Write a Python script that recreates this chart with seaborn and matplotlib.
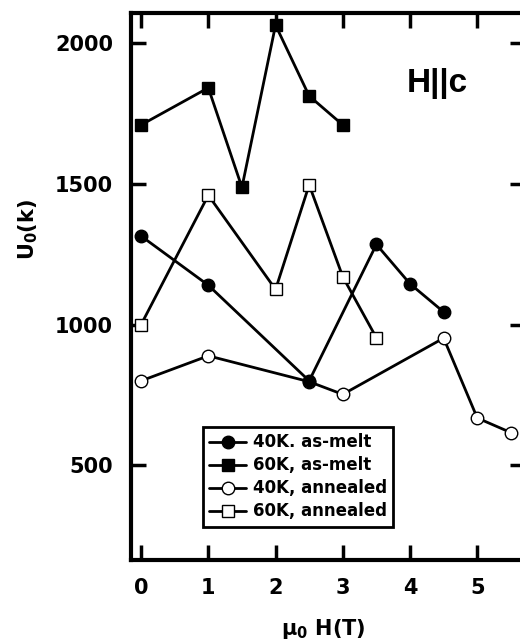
import matplotlib
matplotlib.use("Agg")
import matplotlib.pyplot as plt
import seaborn as sns
import numpy as np

# Data
x_40k_melt = [0, 1, 2.5, 3.5, 4, 4.5]
y_40k_melt = [1315, 1140, 800, 1285, 1145, 1045]

x_60k_melt = [0, 1, 1.5, 2, 2.5, 3]
y_60k_melt = [1710, 1842, 1488, 2065, 1813, 1710]

x_40k_ann = [0, 1, 2.5, 3, 4.5, 5, 5.5]
y_40k_ann = [800, 889, 797, 752, 952, 668, 616]

x_60k_ann = [0, 1, 2, 2.5, 3, 3.5]
y_60k_ann = [1000, 1460, 1125, 1497, 1170, 953]

labels = ["40K. as-melt", "60K, as-melt", "40K, annealed", "60K, annealed"]
xticks = [0, 1, 2, 3, 4, 5]
yticks = [500, 1000, 1500, 2000]

sns.set_theme(style="ticks")
plt.rcParams["font.family"] = ["DejaVu Sans"]
plt.rcParams["font.weight"] = "bold"
plt.rcParams["mathtext.default"] = "bf"
for k in ["text.color", "axes.labelcolor", "xtick.color", "ytick.color", "axes.edgecolor"]:
    plt.rcParams[k] = "black"

fig = plt.figure(figsize=(5.2, 6.42), dpi=100)
ax = fig.add_axes([131 / 520, 1 - 560 / 642, (525 - 131) / 520, (560 - 13) / 642])

lw = 2.0
ms = 9
common = dict(color="black", linewidth=lw, markersize=ms, markeredgecolor="black",
              markeredgewidth=1.0)

# draw annealed (open) first so filled markers sit on top
sns.lineplot(x=x_40k_ann, y=y_40k_ann, ax=ax, marker="o", markerfacecolor="white",
             label=labels[2], zorder=2, **common)
sns.lineplot(x=x_60k_ann, y=y_60k_ann, ax=ax, marker="s", markerfacecolor="white",
             label=labels[3], zorder=2, **common)
sns.lineplot(x=x_40k_melt, y=y_40k_melt, ax=ax, marker="o", markerfacecolor="black",
             label=labels[0], zorder=3, **common)
sns.lineplot(x=x_60k_melt, y=y_60k_melt, ax=ax, marker="s", markerfacecolor="black",
             label=labels[1], zorder=3, **common)

ax.set_xlim(-0.15, 5.71)
ax.set_ylim(163, 2108)
ax.set_xticks(xticks)
ax.set_yticks(yticks)
ax.tick_params(direction="in", length=11, width=2.5, labelsize=15, pad=13,
               top=True, right=True, colors="black")
for lab in ax.get_xticklabels() + ax.get_yticklabels():
    lab.set_fontweight("bold")
for s in ax.spines.values():
    s.set_linewidth(3)
    s.set_color("black")

ax.set_ylabel("U$_0$(k)", fontsize=15, fontweight="bold", color="black")
ax.yaxis.set_label_coords(-0.231, 0.605)
ax.set_xlabel("μ$_0$ H(T)", fontsize=15, fontweight="bold", color="black")
ax.xaxis.set_label_coords(0.487, -0.105)

ax.text((407 - 131) / 394, (560 - 92) / 547, "H||c", transform=ax.transAxes,
        fontsize=24, fontweight="bold", family="Liberation Sans", color="black",
        ha="left", va="baseline")

handles, labs = ax.get_legend_handles_labels()
order = [labs.index(l) for l in labels]
leg = ax.legend([handles[i] for i in order], [labs[i] for i in order],
                loc="upper left", bbox_to_anchor=((202.7 - 131) / 394, (560 - 426.7) / 547),
                borderaxespad=0, frameon=True, fancybox=False, edgecolor="black",
                framealpha=1, handlelength=2.2, handletextpad=0.4, labelspacing=0.3,
                borderpad=0.4, prop={"size": 12, "weight": "bold"})
leg.get_frame().set_linewidth(2)
for t in leg.get_texts():
    t.set_color("black")

fig.savefig("out.png", dpi=100)
